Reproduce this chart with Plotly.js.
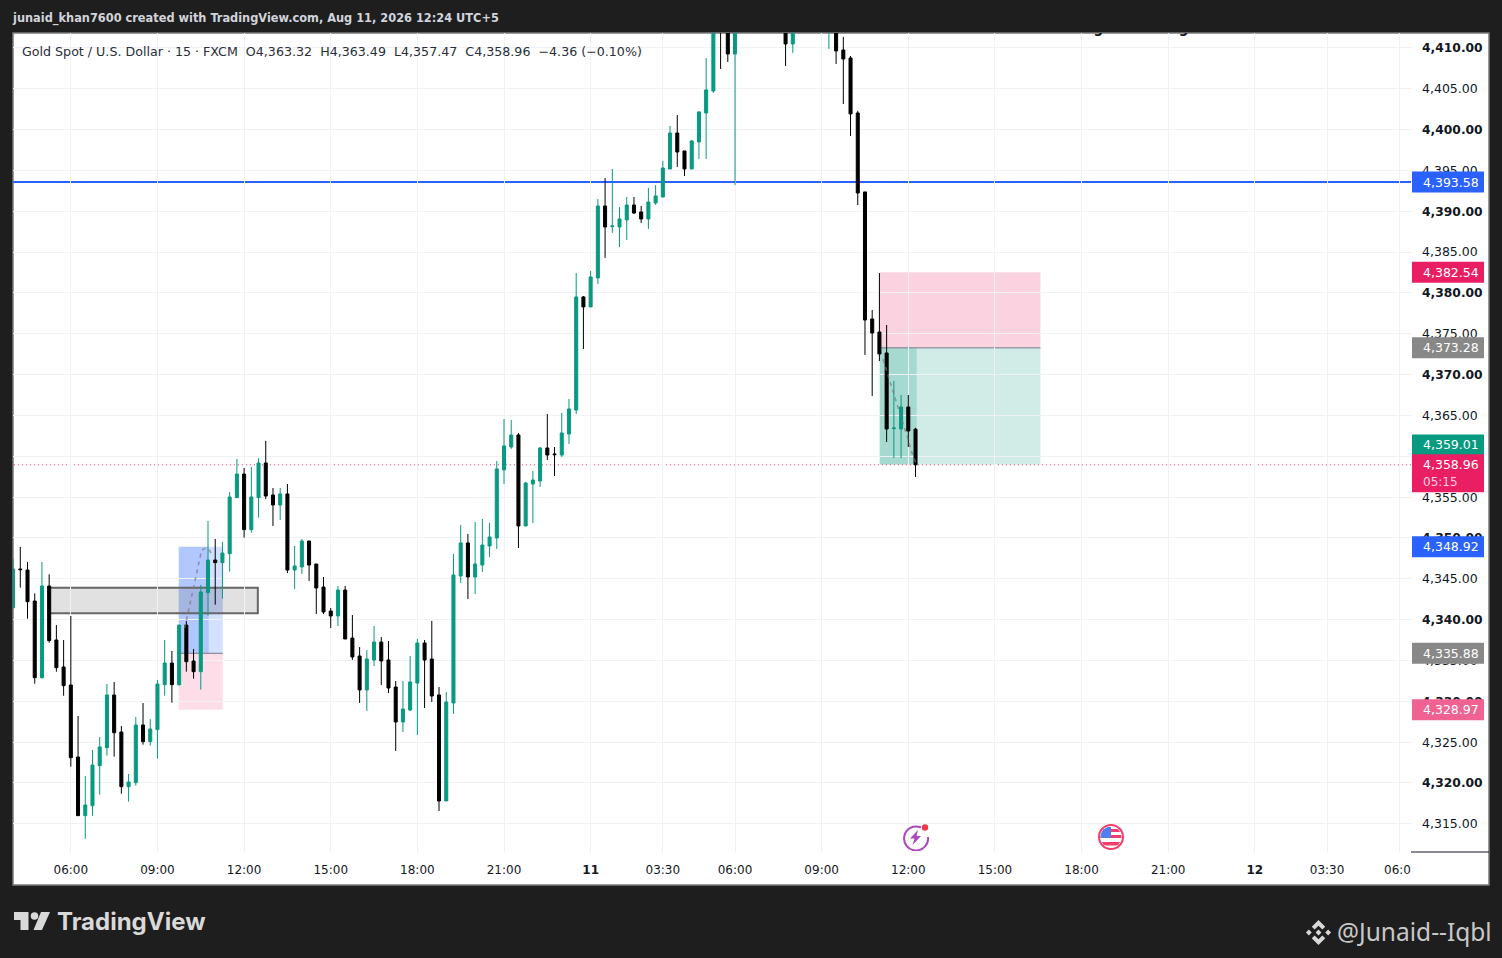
<!DOCTYPE html>
<html><head><meta charset="utf-8">
<script src="https://cdn.plot.ly/plotly-3.0.1.min.js"></script>
<style>html,body{margin:0;padding:0;background:#1e1e1e;overflow:hidden}#c{width:1502px;height:958px}</style>
</head><body><div id="c"></div>
<script>
// ---------- candles (USD, 15-minute bars; bars above the visible top are estimates) ----------
const opens=[4341.47,4346.20,4346.08,4342.28,4332.90,4344.12,4337.51,4334.20,4332.00,4323.18,
4316.00,4317.22,4322.12,4324.32,4330.77,4326.24,4319.55,4320.04,4327.10,4325.06,
4326.53,4332.04,4334.69,4332.04,4339.34,4334.94,4333.63,4343.30,4347.30,4346.98,
4348.08,4354.94,4357.83,4351.02,4354.94,4359.18,4355.26,4354.04,4355.39,4346.08,
4346.45,4349.63,4346.81,4344.00,4341.06,4340.45,4343.63,4337.75,4335.55,4331.39,
4335.06,4337.26,4335.06,4331.75,4327.47,4328.94,4332.24,4337.14,4335.18,4330.78,
4317.80,4329.80,4345.35,4349.39,4345.22,4346.69,4349.02,4350.00,4358.33,4361.14,
4362.61,4351.47,4356.61,4356.98,4361.02,4360.29,4360.16,4362.73,4365.67,4379.51,
4378.29,4381.84,4390.65,4388.12,4388.08,4388.94,4390.77,4389.92,4389.06,4391.02,
4391.75,4395.18,4399.59,4397.39,4395.18,4398.49,4402.04,4404.73,4414.50,4414.40,
4409.26,4415.50,4417.30,4416.40,4415.20,4416.50,4415.00,4413.60,4410.49,4413.60,
4415.20,4414.30,4415.00,4412.50,4413.20,4409.75,4408.77,4402.04,4392.37,4376.81,
4375.22,4372.65,4363.39,4363.35,4366.04,4363.32];
const highs=[4347.43,4348.90,4347.06,4343.22,4347.06,4345.55,4339.34,4337.51,4340.45,4328.20,
4320.85,4324.04,4325.63,4332.12,4332.36,4326.98,4321.10,4328.08,4329.79,4327.83,
4332.61,4337.51,4336.16,4339.34,4339.83,4336.41,4344.24,4352.08,4349.88,4349.51,
4355.63,4359.67,4358.57,4358.69,4359.75,4361.88,4356.12,4356.12,4356.61,4349.02,
4349.88,4349.63,4346.81,4345.22,4341.43,4344.12,4344.12,4340.57,4336.65,4336.28,
4339.22,4337.88,4337.39,4332.49,4332.49,4335.55,4337.63,4337.51,4339.84,4331.75,
4331.14,4348.04,4351.59,4350.49,4351.96,4352.33,4351.84,4359.43,4364.57,4364.45,
4362.86,4356.86,4358.20,4361.14,4365.18,4361.14,4365.31,4367.02,4382.45,4379.63,
4382.69,4391.51,4394.08,4395.18,4390.53,4391.75,4391.75,4390.65,4392.86,4393.22,
4396.16,4400.45,4401.79,4397.39,4398.73,4402.28,4408.77,4415.00,4416.00,4415.60,
4417.00,4418.20,4419.00,4418.00,4417.00,4417.80,4416.20,4414.90,4415.00,4416.10,
4416.80,4415.90,4416.00,4415.00,4414.40,4411.35,4409.02,4402.30,4392.37,4377.91,
4382.44,4376.08,4369.22,4367.51,4367.51,4363.49];
const lows=[4341.34,4343.92,4340.12,4332.16,4332.77,4337.18,4333.63,4330.69,4322.00,4316.00,
4313.18,4316.00,4318.57,4323.34,4323.22,4318.69,4317.71,4319.67,4324.69,4324.57,
4322.98,4330.69,4329.83,4331.92,4333.63,4332.77,4331.43,4340.49,4341.83,4342.57,
4345.88,4354.94,4350.04,4350.65,4352.49,4354.78,4351.47,4352.20,4345.71,4343.75,
4345.59,4344.73,4340.69,4340.69,4338.98,4339.22,4337.63,4335.06,4329.80,4328.82,
4334.33,4332.00,4331.02,4323.92,4326.24,4328.82,4325.88,4329.18,4329.92,4316.57,
4317.80,4328.45,4344.49,4342.53,4343.14,4345.84,4347.67,4348.65,4356.61,4360.90,
4348.78,4351.47,4351.84,4356.25,4359.55,4357.59,4359.92,4361.51,4365.18,4373.14,
4378.29,4381.10,4384.29,4387.35,4385.63,4386.49,4389.67,4388.57,4387.83,4390.77,
4391.75,4395.18,4395.43,4394.32,4395.18,4396.41,4396.41,4404.49,4407.43,4408.28,
4393.22,4414.10,4416.00,4414.80,4413.90,4414.50,4412.60,4407.79,4409.39,4412.90,
4413.70,4413.00,4412.40,4409.88,4408.04,4403.14,4399.22,4390.77,4372.41,4367.39,
4371.67,4361.75,4359.79,4359.79,4361.14,4357.47];
const closes=[4346.20,4346.12,4342.20,4332.90,4344.12,4337.43,4334.12,4331.92,4323.10,4316.00,
4317.30,4322.20,4324.41,4330.77,4326.16,4319.55,4320.12,4327.10,4325.06,4326.61,
4332.12,4334.69,4332.04,4339.34,4334.85,4333.63,4343.39,4347.30,4346.98,4348.16,
4355.02,4357.83,4351.02,4355.02,4359.18,4355.14,4354.04,4355.39,4346.08,4346.57,
4349.63,4346.69,4343.88,4340.94,4340.45,4343.63,4337.63,4335.43,4331.39,4335.18,
4337.26,4334.94,4331.63,4327.47,4329.06,4332.37,4337.14,4335.06,4330.65,4317.80,
4329.92,4345.47,4349.39,4345.22,4346.81,4349.14,4350.12,4358.45,4361.27,4362.61,
4351.47,4356.73,4357.10,4361.02,4360.16,4360.20,4362.86,4365.80,4379.51,4378.29,
4381.96,4390.65,4388.08,4388.20,4389.06,4390.77,4389.79,4389.06,4391.14,4391.88,
4395.30,4399.59,4397.26,4395.18,4398.61,4402.16,4404.86,4413.20,4412.60,4409.26,
4415.50,4417.30,4416.40,4415.20,4416.50,4415.00,4413.60,4410.49,4413.60,4415.20,
4414.30,4415.00,4412.90,4414.20,4409.63,4408.65,4401.92,4392.24,4376.69,4375.10,
4372.53,4363.35,4363.47,4366.04,4363.10,4358.96];
const barIndex=opens.map((_,i)=>i);

// ---------- axes ----------
const priceTicks=[4315,4320,4325,4330,4335,4340,4345,4350,4355,4360,4365,4370,4375,4380,4385,4390,4395,4400,4405,4410];
const boldPrices=[4320,4330,4340,4350,4360,4370,4380,4390,4400,4410];
const timeTicks=[8,20,32,44,56,68,80,90,100,112,124,136,148,160,172,182,192];
const timeLabels=['06:00','09:00','12:00','15:00','18:00','21:00','<b>11</b>','03:30','06:00','09:00','12:00','15:00','18:00','21:00','<b>12</b>','03:30',''];

// ---------- price labels on the scale ----------
const labelPrices=[4393.58,4382.54,4373.28,4359.01,4358.96,4348.92,4335.88,4328.97];
const labelColors=['#2962ff','#e91e63','#888888','#089981','#e91e63','#2962ff','#888888','#f06292'];
const labelShift=[0,0,0,-19.5,0,0,0,0];
const LAST=4358.96, BLUE_LEVEL=4393.58;

// ---------- drawings ----------
const longZone={left:22.95,mid:27.1,right:29.04,top:4348.92,entry:4335.88,stop:4328.97};
const shortZone={left:120.04,mid:125.16,right:142.3,stop:4382.54,entry:4373.28,target:4359.01};
const grayBox={left:4.94,right:33.9,top:4343.91,bottom:4340.78};
const path1X=[23.78,26.09,26.55,27.15,27.48], path1Y=[4338.98,4348.41,4348.74,4348.62,4348.00];
const path2X=[120.50,121.47,122.35,123.74,124.57,125.13], path2Y=[4371.88,4369.22,4366.57,4362.70,4360.25,4359.02];

// ---------- geometry helpers ----------
const PL=13,PR=1411,PT=33,PB=852;
const px=x=>(x-PL)/(PR-PL), py=y=>1-(y-PT)/(PB-PT);
const fam='"DejaVu Sans",sans-serif';
const rectP=(x0,y0,x1,y1,o)=>Object.assign({type:'rect',xref:'paper',yref:'paper',x0:px(x0),x1:px(x1),y0:py(y0),y1:py(y1),line:{width:0},layer:'below'},o||{});
const rectD=(x0,y0,x1,y1,fill,o)=>Object.assign({type:'rect',xref:'x',yref:'y',x0,x1,y0,y1,fillcolor:fill,line:{width:0},layer:'below'},o||{});
const lineD=(x0,y0,x1,y1,color,w,dash)=>({type:'line',xref:'x',yref:'y',x0,x1,y0,y1,line:{color,width:w,dash:dash||'solid'},layer:'below'});
const txt=(x,y,text,size,color,o)=>Object.assign({xref:'paper',yref:'paper',x:px(x),y:py(y),xanchor:'left',yanchor:'middle',text,showarrow:false,font:{family:fam,size,color}},o||{});
const svgUri=s=>'data:image/svg+xml;charset=utf-8,'+encodeURIComponent(s);
const img=(x,y,w,h,s)=>({source:svgUri(s),xref:'paper',yref:'paper',x:px(x),y:py(y),sizex:w/(PR-PL),sizey:h/(PB-PT),xanchor:'left',yanchor:'top',sizing:'stretch',layer:'above'});

const shapes=[
 rectP(13,33,1489,885,{fillcolor:'#ffffff',line:{color:'#7a7a7a',width:1.5}}),
 // long position
 rectD(longZone.left,longZone.entry,longZone.right,longZone.top,'rgba(41,98,255,0.2)'),
 rectD(longZone.left,longZone.entry,longZone.mid,longZone.top,'rgba(41,98,255,0.2)'),
 rectD(longZone.left,longZone.stop,longZone.right,longZone.entry,'rgba(233,30,99,0.15)'),
 // gray box
 rectD(grayBox.left,grayBox.bottom,grayBox.right,grayBox.top,'rgba(120,120,120,0.22)',{line:{color:'#666666',width:2}}),
 rectD(longZone.mid,grayBox.bottom,longZone.right,grayBox.top,'rgba(110,130,200,0.15)'),
 lineD(longZone.left,longZone.entry,longZone.right,longZone.entry,'#787b86',1),
 // short position
 rectD(shortZone.left,shortZone.entry,shortZone.right,shortZone.stop,'rgba(233,30,99,0.2)'),
 rectD(shortZone.left,shortZone.target,shortZone.right,shortZone.entry,'rgba(8,153,129,0.19)'),
 rectD(shortZone.left,shortZone.target,shortZone.mid,shortZone.entry,'rgba(8,153,129,0.21)'),
 lineD(shortZone.left,shortZone.entry,shortZone.right,shortZone.entry,'#787b86',1),
 // horizontal levels
 lineD(-1,LAST,194,LAST,'#e91e63',1,'1px,3px'),
 lineD(-1,BLUE_LEVEL,194,BLUE_LEVEL,'#2962ff',2),
 // axis separator
 {type:'line',xref:'paper',yref:'paper',x0:1,x1:px(1489),y0:0,y1:0,line:{color:'#131722',width:1},layer:'above'}
];
// label backgrounds, above the axis text
labelPrices.forEach((p,i)=>{
  const extra=(p===LAST)?17:0;
  shapes.push({type:'rect',xref:'paper',yref:'y',ysizemode:'pixel',yanchor:p,
    x0:px(1412),x1:px(1484),y0:10.5-labelShift[i],y1:-10.5-labelShift[i]-extra,
    fillcolor:labelColors[i],line:{width:0},layer:'above'});
});

const annotations=[
 txt(10,18,'junaid_khan7600 created with TradingView.com, Aug 11, 2026 12:24 UTC+5',12,'#d1d4dc',{font:{family:'"DejaVu Sans Condensed","DejaVu Sans",sans-serif',size:12.65,color:'#d1d4dc',weight:700}}),
 txt(20,51,'Gold Spot / U.S. Dollar · 15 · FXCM\u00a0\u00a0O4,363.32\u00a0\u00a0H4,363.49\u00a0\u00a0L4,357.47\u00a0\u00a0C4,358.96\u00a0\u00a0−4.36 (−0.10%)',12,'#131722',{font:{family:fam,size:12.65,color:'#2a2e39'}}),
 txt(1411,870,'06:0',12,'#131722',{xanchor:'right',xshift:2}),
 txt(55,921.5,'TradingView',24,'#d9d9d9',{font:{family:'Inter,sans-serif',size:24,color:'#d9d9d9',weight:700}}),
 txt(1334.5,931,'@Junaid--Iqbl',24.5,'#c8c8c8',{font:{family:'"Noto Sans",sans-serif',size:24.5,color:'#c8c8c8'}})
];
labelPrices.forEach((p,i)=>{
  annotations.push({xref:'paper',yref:'y',x:px(1421),y:p,yshift:-labelShift[i],xanchor:'left',yanchor:'middle',
    text:p.toLocaleString('en-US',{minimumFractionDigits:2}),showarrow:false,font:{family:fam,size:12.5,color:'#ffffff'}});
});
annotations.push({xref:'paper',yref:'y',x:px(1421),y:LAST,yshift:-17,xanchor:'left',yanchor:'middle',text:'05:15',showarrow:false,font:{family:fam,size:12,color:'#ffd0e0'}});

const images=[
 img(14,912,36,18,'<svg xmlns="http://www.w3.org/2000/svg" viewBox="0 0 36 18"><path fill="#d9d9d9" d="M0 0H14.5V18H6.5V8H0Z"/><circle fill="#d9d9d9" cx="20.5" cy="4" r="3.8"/><path fill="#d9d9d9" d="M27 0H36L28 18H19.5Z"/></svg>'),
 img(1305,919,27,27,'<svg xmlns="http://www.w3.org/2000/svg" viewBox="0 0 28 28"><g fill="#d8d8d8"><path d="M14 1L21 8L18 11L14 7L10 11L7 8Z"/><path d="M14 27L21 20L18 17L14 21L10 17L7 20Z"/><path d="M4 11L7 14L4 17L1 14Z"/><path d="M24 11L27 14L24 17L21 14Z"/><path d="M14 11L17 14L14 17L11 14Z"/></g></svg>'),
 img(902,823,28,28,'<svg xmlns="http://www.w3.org/2000/svg" viewBox="0 0 28 28"><path fill="none" stroke="#ab47bc" stroke-width="2" d="M19 4.5A12 12 0 1 0 26 14"/><path fill="#ab47bc" d="M16 7L8 15.5H12.5L10.5 22L19 13H14.5Z"/><circle cx="23" cy="4.5" r="3.2" fill="#f23645"/></svg>'),
 img(1097,823,28,28,'<svg xmlns="http://www.w3.org/2000/svg" viewBox="0 0 28 28"><defs><clipPath id="f"><circle cx="14" cy="14" r="10.5"/></clipPath></defs><circle cx="14" cy="14" r="12" fill="#fff" stroke="#f23d6b" stroke-width="2"/><g clip-path="url(#f)"><rect x="3" y="3" width="22" height="22" fill="#fff"/><rect x="3" y="6" width="22" height="3" fill="#f23d6b"/><rect x="3" y="12" width="22" height="3" fill="#f23d6b"/><rect x="3" y="19" width="22" height="3.5" fill="#f23d6b"/><rect x="3" y="4" width="11" height="11" fill="#4f7ff0"/></g></svg>')
];

const priceText=priceTicks.map(p=>{
  const s=p.toLocaleString('en-US',{minimumFractionDigits:2});
  return boldPrices.includes(p)?'<span style="font-size:12.3px"><b>'+s+'</b></span>':s;
});

const traces=[
 {type:'scatter',mode:'lines',x:path1X,y:path1Y,line:{color:'rgba(120,120,120,0.7)',width:1.5,dash:'4px,4px'},hoverinfo:'skip',showlegend:false},
 {type:'scatter',mode:'lines',x:path2X,y:path2Y,line:{color:'rgba(120,120,120,0.7)',width:1.5,dash:'4px,4px'},hoverinfo:'skip',showlegend:false},
 {type:'candlestick',x:barIndex,open:opens,high:highs,low:lows,close:closes,whiskerwidth:0,
  increasing:{line:{color:'#089981',width:1},fillcolor:'#089981'},
  decreasing:{line:{color:'#000000',width:1},fillcolor:'#000000'},hoverinfo:'skip',showlegend:false},
 {type:'scatter',mode:'text',x:[148.8],y:[4412.2],text:['<b>this means swing low is target</b>'],textposition:'middle center',
  textfont:{family:fam,size:13.5,color:'#131722'},cliponaxis:true,hoverinfo:'skip',showlegend:false}
];

const layout={
 width:1502,height:958,margin:{l:PL,r:1502-PR,t:PT,b:958-PB,pad:0},autosize:false,
 paper_bgcolor:'#1e1e1e',plot_bgcolor:'#ffffff',showlegend:false,boxgap:0.4,dragmode:false,hovermode:false,
 xaxis:{type:'linear',range:[-0.01,193.63],tickmode:'array',tickvals:timeTicks,ticktext:timeLabels,showgrid:true,gridcolor:'#f0f1f4',gridwidth:1,
   zeroline:false,showline:false,ticks:'',ticklen:0,tickangle:0,ticklabelstandoff:9,tickfont:{family:fam,size:12,color:'#131722'},rangeslider:{visible:false},fixedrange:true},
 yaxis:{type:'linear',side:'right',range:[4311.55,4411.83],tickmode:'array',tickvals:priceTicks,ticktext:priceText,showgrid:true,gridcolor:'#f0f1f4',gridwidth:1,
   zeroline:false,showline:false,ticks:'',ticklabelstandoff:10,tickfont:{family:fam,size:12.5,color:'#131722'},fixedrange:true},
 shapes,annotations,images
};
Plotly.newPlot('c',traces,layout,{displayModeBar:false,staticPlot:true});
</script></body></html>
